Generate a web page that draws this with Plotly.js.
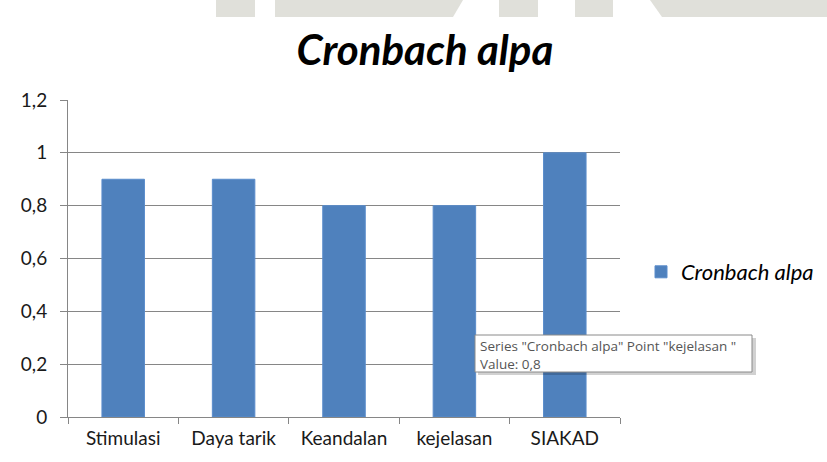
<!DOCTYPE html>
<html>
<head>
<meta charset="utf-8">
<script src="https://cdn.plot.ly/plotly-3.0.1.min.js"></script>
<style>html,body{margin:0;padding:0;background:#fff;}#chart{width:827px;height:462px;}</style>
</head>
<body>
<div id="chart"></div>
<script>
const categories = ["Stimulasi", "Daya tarik", "Keandalan", "kejelasan", "SIAKAD"];
const values = [0.9, 0.9, 0.8, 0.8, 1.0];
const seriesName = "Cronbach alpa";
const yTicks = [0, 0.2, 0.4, 0.6, 0.8, 1.0, 1.2];

const W = 827, H = 462;
const L = 68, R = 620, T = 100, B = 417;
const px = x => (x - L) / (R - L);
const py = y => (B - y) / (B - T);

const wm = "#e0e0da";
const shapes = [
  {type:"rect", xref:"paper", yref:"paper", x0:px(216), x1:px(255), y0:py(17), y1:py(0), fillcolor:wm, line:{width:0}, layer:"below"},
  {type:"path", xref:"paper", yref:"paper", path:`M ${px(275)} ${py(17)} L ${px(453)} ${py(17)} L ${px(463)} ${py(0)} L ${px(275)} ${py(0)} Z`, fillcolor:wm, line:{width:0}, layer:"below"},
  {type:"rect", xref:"paper", yref:"paper", x0:px(499), x1:px(538), y0:py(17), y1:py(0), fillcolor:wm, line:{width:0}, layer:"below"},
  {type:"rect", xref:"paper", yref:"paper", x0:px(575), x1:px(613), y0:py(17), y1:py(0), fillcolor:wm, line:{width:0}, layer:"below"},
  {type:"path", xref:"paper", yref:"paper", path:`M ${px(662)} ${py(17)} L ${px(827)} ${py(17)} L ${px(827)} ${py(0)} L ${px(650)} ${py(0)} Z`, fillcolor:wm, line:{width:0}, layer:"below"},
  // tooltip shadow
  {type:"rect", xref:"paper", yref:"paper", x0:px(478), x1:px(756), y0:py(375), y1:py(338), fillcolor:"rgba(0,0,0,0.18)", line:{width:0}, layer:"above"},
  {type:"rect", xref:"paper", yref:"paper", x0:px(475), x1:px(752), y0:py(372), y1:py(335), fillcolor:"#ffffff", line:{width:1, color:"#8a8a8a"}, layer:"above"}
];

const trace = {
  type: "bar",
  x: categories,
  y: values,
  name: "<i>" + seriesName + "</i>",
  marker: {color: "#4f81bd", line: {color: "#5a8ccb", width: 1}},
  showlegend: true,
  hoverinfo: "skip"
};

const layout = {
  width: W, height: H,
  margin: {l: L, r: W - R, t: T, b: H - B, autoexpand: false},
  paper_bgcolor: "#ffffff",
  plot_bgcolor: "#ffffff",
  separators: ", ",
  font: {family: "Lato, 'Open Sans', sans-serif", color: "#1a1a1a", size: 19},
  title: {
    text: "<b><i>Cronbach alpa</i></b>",
    font: {family: "Lato, 'Open Sans', sans-serif", size: 42, color: "#000"},
    xref: "container", yref: "container",
    x: 425 / W, y: 1 - 50 / H, xanchor: "center", yanchor: "middle"
  },
  bargap: 0.615,
  xaxis: {
    type: "category",
    showline: true, linecolor: "#868686", linewidth: 1,
    ticks: "outside", tickson: "boundaries", ticklen: 6, tickcolor: "#868686",
    showgrid: false,
    tickfont: {size: 19, color: "#1a1a1a"},
    ticklabelstandoff: 4,
    automargin: false
  },
  yaxis: {
    range: [0, 1.2],
    tickvals: yTicks,
    showline: true, linecolor: "#868686", linewidth: 1,
    showgrid: true, gridcolor: "#868686", gridwidth: 1,
    ticks: "outside", ticklen: 7, tickcolor: "#868686",
    zeroline: false,
    tickfont: {size: 19, color: "#1a1a1a"},
    ticklabelstandoff: 9,
    automargin: false
  },
  showlegend: true,
  legend: {
    x: px(641), y: py(272), xanchor: "left", yanchor: "middle",
    font: {size: 22, color: "#000"},
    itemwidth: 30,
    bgcolor: "rgba(0,0,0,0)"
  },
  shapes: shapes,
  annotations: [{
    xref: "paper", yref: "paper",
    x: px(478), y: py(335), xanchor: "left", yanchor: "top",
    align: "left", showarrow: false,
    text: 'Series "Cronbach alpa" Point "kejelasan "<br>Value: 0,8',
    font: {family: "'Open Sans', sans-serif", size: 13.5, color: "#555"}
  }]
};

Plotly.newPlot("chart", [trace], layout, {displayModeBar: false, staticPlot: true});
</script>
</body>
</html>
